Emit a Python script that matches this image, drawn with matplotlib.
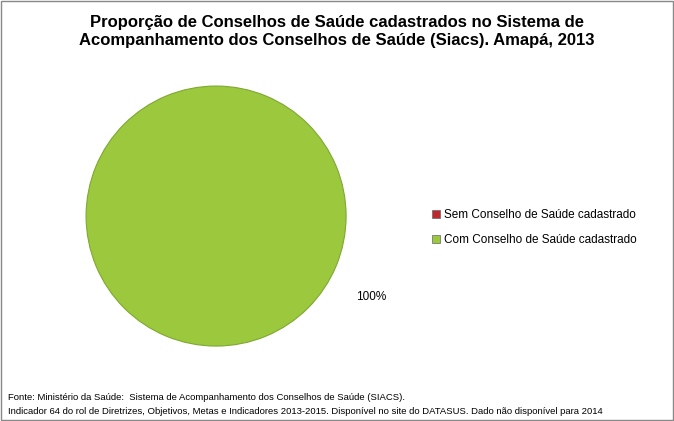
import matplotlib
matplotlib.use("Agg")
import matplotlib.pyplot as plt
from matplotlib.patches import Rectangle, Patch

plt.rcParams['font.family'] = ['Liberation Sans', 'DejaVu Sans']

categories = ["Sem Conselho de Saúde cadastrado", "Com Conselho de Saúde cadastrado"]
values = [0, 100]
labels = ["", "100%"]
colors = ["#c0272d", "#9bc83c"]

fig = plt.figure(figsize=(6.74, 4.21), dpi=100)
fig.patches.append(Rectangle((0.002, 0.003), 0.996, 0.994, transform=fig.transFigure,
                             fill=False, edgecolor="#888888", linewidth=1))

fig.text(0.5, 0.925, "Proporção de Conselhos de Saúde cadastrados no Sistema de\n"
         "Acompanhamento dos Conselhos de Saúde (Siacs). Amapá, 2013",
         ha="center", va="center", fontsize=12, fontweight="bold", linespacing=1.3)

ax = fig.add_axes([0.1276, 0.178, 0.386, 0.6176])
wedges, texts = ax.pie(values, labels=labels, colors=colors, startangle=150,
                       labeldistance=1.24, textprops={"fontsize": 8.5},
                       wedgeprops={"edgecolor": "#7fa832", "linewidth": 0.8})
ax.set_xlim(-1, 1)
ax.set_ylim(-1, 1)
ax.set_aspect("equal")

handles = [Patch(facecolor=c, edgecolor="#666666", linewidth=0.5) for c in colors]
fig.legend(handles, categories, loc="center left", bbox_to_anchor=(0.625, 0.46),
           frameon=False, fontsize=8.5, handlelength=0.7, handleheight=0.7,
           handletextpad=0.3, labelspacing=1.1)

fig.text(0.012, 0.055, "Fonte: Ministério da Saúde:  Sistema de Acompanhamento dos Conselhos de Saúde (SIACS).",
         fontsize=6.8, va="center")
fig.text(0.012, 0.022, "Indicador 64 do rol de Diretrizes, Objetivos, Metas e Indicadores 2013-2015. "
         "Disponível no site do DATASUS. Dado não disponível para 2014",
         fontsize=6.8, va="center")

fig.savefig("out.png", dpi=100)
